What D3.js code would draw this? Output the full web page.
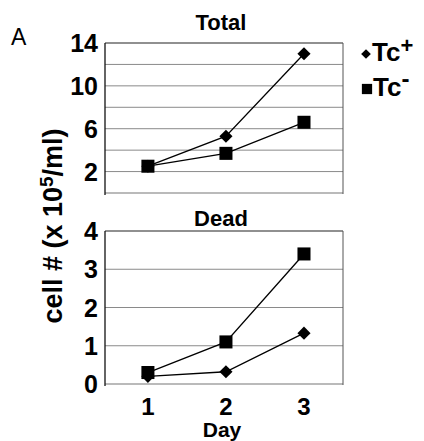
<!DOCTYPE html>
<html>
<head>
<meta charset="utf-8">
<script src="https://cdn.jsdelivr.net/npm/d3@7.9.0/dist/d3.min.js"></script>
<style>
  body { margin: 0; background: #fff; }
  svg { display: block; font-family: "Liberation Sans", Arial, sans-serif; }
</style>
</head>
<body>
<svg id="chart" width="424" height="441"></svg>
<script>
// data
const days = [1, 2, 3];
const totalTcPlus = [2.5, 5.3, 13.0];
const totalTcMinus = [2.5, 3.7, 6.6];
const deadTcPlus = [0.2, 0.32, 1.33];
const deadTcMinus = [0.3, 1.1, 3.4];
const totalTicks = [2, 6, 10, 14];
const totalGrid = [2, 4, 6, 8, 10, 12];
const deadTicks = [0, 1, 2, 3, 4];
const deadGrid = [1, 2, 3];

const svg = d3.select('#chart');
const left = 105, right = 343;

let x = d3.scaleLinear().domain([0.45, 3.5]).range([left, right]);

let diamond = d3.symbol().type(d3.symbolDiamond2).size(110);
let square = d3.symbol().type(d3.symbolSquare).size(170);

function drawPanel(title, yDomain, yRange, ticks, grid, plus, minus, titleY) {
  let y = d3.scaleLinear().domain(yDomain).range(yRange);
  let g = svg.append('g');

  // gridlines
  g.selectAll('.grid')
    .data(grid)
    .join('line')
    .attr('x1', left).attr('x2', right)
    .attr('y1', d => y(d)).attr('y2', d => y(d))
    .attr('stroke', '#8a8a8a')
    .attr('stroke-width', 1);

  // frame
  g.append('line').attr('x1', left).attr('x2', right)
    .attr('y1', y(yDomain[1])).attr('y2', y(yDomain[1]))
    .attr('stroke', '#222').attr('stroke-width', 1.2);
  g.append('line').attr('x1', left).attr('x2', right)
    .attr('y1', y(yDomain[0])).attr('y2', y(yDomain[0]))
    .attr('stroke', '#777').attr('stroke-width', 1.2);
  g.append('line').attr('x1', right).attr('x2', right)
    .attr('y1', y(yDomain[1])).attr('y2', y(yDomain[0]) + 1)
    .attr('stroke', '#555').attr('stroke-width', 1);
  g.append('line').attr('x1', left).attr('x2', left)
    .attr('y1', y(yDomain[1])).attr('y2', y(yDomain[0]) + 2)
    .attr('stroke', '#111').attr('stroke-width', 1.3);

  // y tick labels
  g.selectAll('.tick')
    .data(ticks)
    .join('text')
    .attr('x', 98)
    .attr('y', d => y(d))
    .attr('dy', '0.36em')
    .attr('text-anchor', 'end')
    .attr('font-size', 25)
    .attr('font-weight', 'bold')
    .text(d => d);

  // title
  g.append('text')
    .attr('x', 221).attr('y', titleY)
    .attr('text-anchor', 'middle')
    .attr('font-size', 22)
    .attr('font-weight', 'bold')
    .text(title);

  let line = d3.line().x((d, i) => x(days[i])).y(d => y(d));
  [plus, minus].forEach(s => {
    g.append('path')
      .attr('d', line(s))
      .attr('fill', 'none')
      .attr('stroke', '#000')
      .attr('stroke-width', 1.3);
  });

  // markers: square series drawn after diamonds
  g.selectAll('.dia')
    .data(plus)
    .join('path')
    .attr('d', diamond)
    .attr('transform', (d, i) => `translate(${x(days[i])},${y(d)})`)
    .attr('fill', '#000');
  g.selectAll('.sq')
    .data(minus)
    .join('path')
    .attr('d', square)
    .attr('transform', (d, i) => `translate(${x(days[i])},${y(d)})`)
    .attr('fill', '#000');
}

drawPanel('Total', [0, 14], [193, 43], totalTicks, totalGrid, totalTcPlus, totalTcMinus, 30);
drawPanel('Dead', [0, 4], [384, 231], deadTicks, deadGrid, deadTcPlus, deadTcMinus, 226);

// x tick labels
svg.selectAll('.xt')
  .data(days)
  .join('text')
  .attr('x', d => x(d))
  .attr('y', 415)
  .attr('text-anchor', 'middle')
  .attr('font-size', 24)
  .attr('font-weight', 'bold')
  .text(d => d);

svg.append('text')
  .attr('x', 222).attr('y', 437)
  .attr('text-anchor', 'middle')
  .attr('font-size', 21)
  .attr('font-weight', 'bold')
  .text('Day');

// y axis label
let yl = svg.append('text')
  .attr('transform', 'translate(62,226) rotate(-90)')
  .attr('text-anchor', 'middle')
  .attr('font-size', 27)
  .attr('font-weight', 'bold');
yl.append('tspan').text('cell # (x 10');
yl.append('tspan').attr('font-size', 19).attr('dy', -9).text('5');
yl.append('tspan').attr('dy', 9).text('/ml)');

// panel letter
svg.append('text')
  .attr('x', 11).attr('y', 45)
  .attr('font-size', 23)
  .text('A');

// legend
let legend = svg.append('g');
legend.append('path').attr('d', diamond.size(60))
  .attr('transform', 'translate(366,54)').attr('fill', '#000');
let t1 = legend.append('text').attr('x', 372).attr('y', 61)
  .attr('font-size', 26).attr('font-weight', 'bold');
t1.append('tspan').text('Tc');
t1.append('tspan').attr('font-size', 22).attr('dy', -8).text('+');

legend.append('path').attr('d', square.size(105))
  .attr('transform', 'translate(367,89)').attr('fill', '#000');
let t2 = legend.append('text').attr('x', 373).attr('y', 96)
  .attr('font-size', 26).attr('font-weight', 'bold');
t2.append('tspan').text('Tc');
t2.append('tspan').attr('font-size', 24).attr('dy', -9).text('-');
</script>
</body>
</html>
